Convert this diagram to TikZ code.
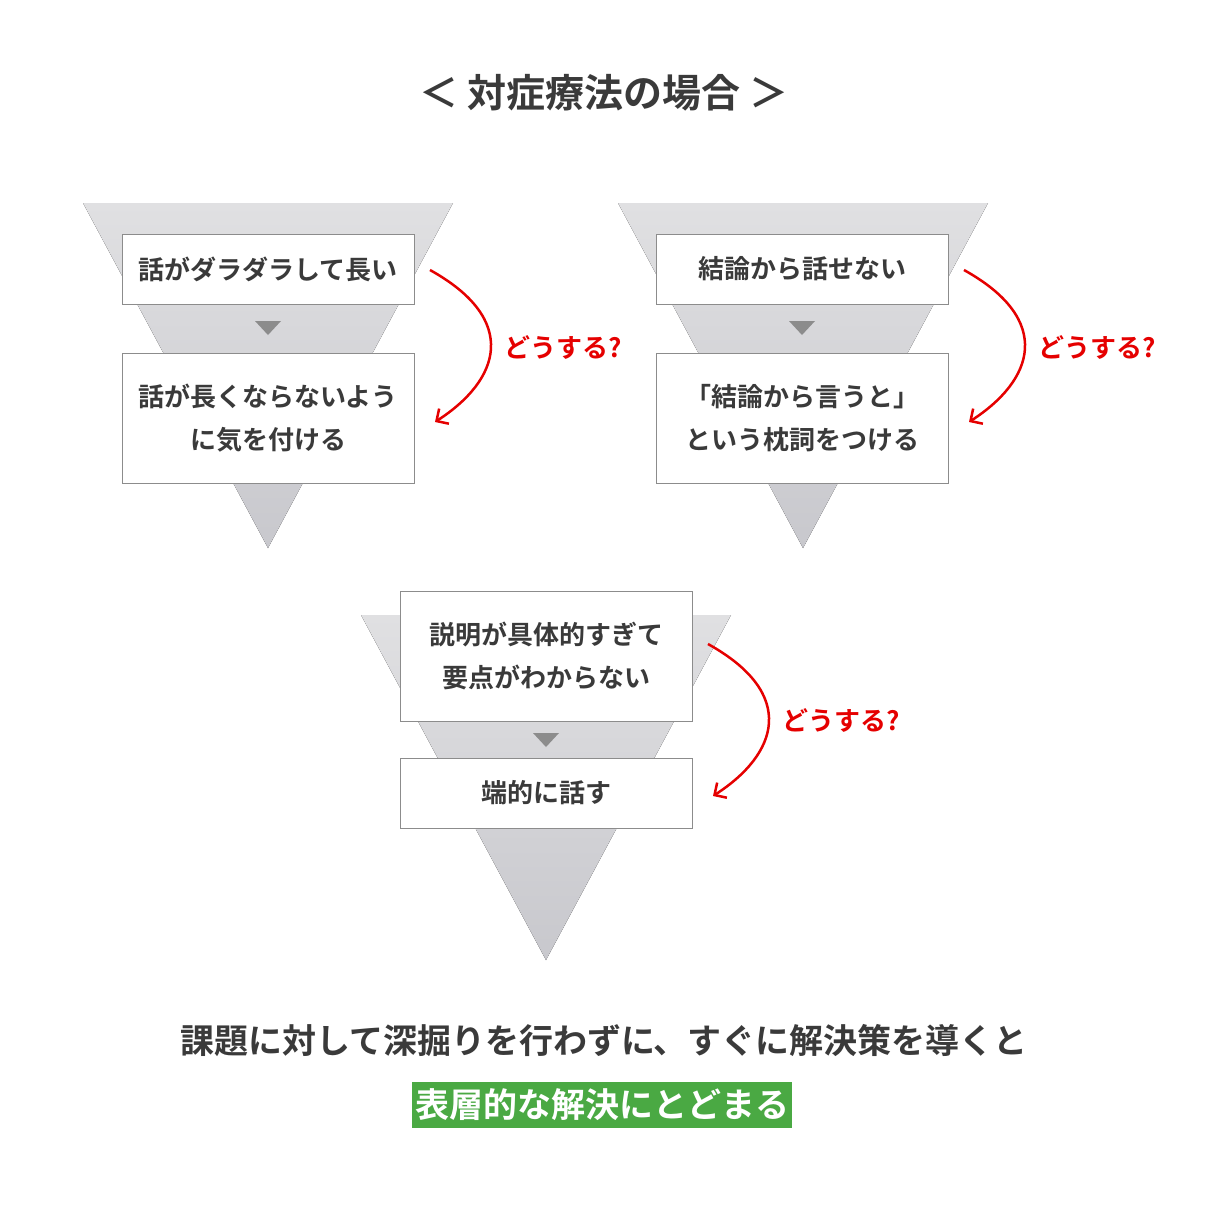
\documentclass[tikz,border=0pt]{standalone}
\usepackage{fontspec}
\setmainfont{Noto Sans CJK JP}[BoldFont={Noto Sans CJK JP Bold}]
\usetikzlibrary{arrows.meta}
\definecolor{txt}{HTML}{3A3A3A}
\definecolor{gr}{HTML}{4AA943}
\definecolor{fl}{HTML}{E0E0E2}
\definecolor{fd}{HTML}{C8C8CD}
\tikzset{
 funnel/.style={top color=fl,bottom color=fd,draw=none},
 box/.style={draw=black!45,line width=1pt,fill=white,minimum width=292pt,align=center,font=\fontsize{26}{43}\selectfont\bfseries,text=txt},
 mini/.style={fill=black!45,draw=none},
 redarr/.style={draw=red!90!black,line width=2.5pt,-{Straight Barb[length=9pt,width=18pt]}},
 q/.style={text=red!90!black,font=\fontsize{26}{30}\selectfont\bfseries}
}
\begin{document}
\begin{tikzpicture}[x=1pt,y=-1pt]
\useasboundingbox (0,0) rectangle (1208,1208);
\node[text=txt,font=\fontsize{39}{42}\selectfont\bfseries] (title) at (604,93) {＜ 対症療法の場合 ＞};
% left
\fill[funnel] (83,203) -- (453,203) -- (268,548) -- cycle;
\node[box,minimum height=70pt] (a1) at (268,269) {話がダラダラして長い};
\fill[mini] (255,321) -- (281,321) -- (268,335) -- cycle;
\node[box,minimum height=130pt] (a2) at (268,418) {話が長くならないよう\\に気を付ける};
\coordinate (as) at (430,270); \coordinate (ae) at (435,422);
\draw[redarr] (as) .. controls (520,320) and (500,380) .. (ae);
\node[q] (aq) at (563,347) {どうする?};
% right
\fill[funnel] (618,203) -- (988,203) -- (803,548) -- cycle;
\node[box,minimum height=70pt] (b1) at (802,269) {結論から話せない};
\fill[mini] (789,321) -- (815,321) -- (802,335) -- cycle;
\node[box,minimum height=130pt] (b2) at (802,418) {「結論から言うと」\\という枕詞をつける};
\coordinate (bs) at (964,270); \coordinate (be) at (969,422);
\draw[redarr] (bs) .. controls (1054,320) and (1034,380) .. (be);
\node[q] (bq) at (1097,347) {どうする?};
% bottom
\fill[funnel] (361,615) -- (731,615) -- (546,960) -- cycle;
\node[box,minimum height=130pt] (c1) at (546,656) {説明が具体的すぎて\\要点がわからない};
\fill[mini] (533,733) -- (559,733) -- (546,747) -- cycle;
\node[box,minimum height=70pt] (c2) at (546,793) {端的に話す};
\coordinate (cs) at (708,644); \coordinate (ce) at (713,796);
\draw[redarr] (cs) .. controls (798,694) and (778,754) .. (ce);
\node[q] (cq) at (841,720) {どうする?};
% bottom text
\node[text=txt,font=\fontsize{34}{38}\selectfont\bfseries] (t1) at (604,1041) {課題に対して深掘りを行わずに、すぐに解決策を導くと};
\node[fill=gr,text=white,font=\fontsize{34}{38}\selectfont\bfseries,minimum width=380pt,minimum height=46pt,inner sep=0pt] (t2) at (602,1105) {表層的な解決にとどまる};
\end{tikzpicture}
\end{document}
